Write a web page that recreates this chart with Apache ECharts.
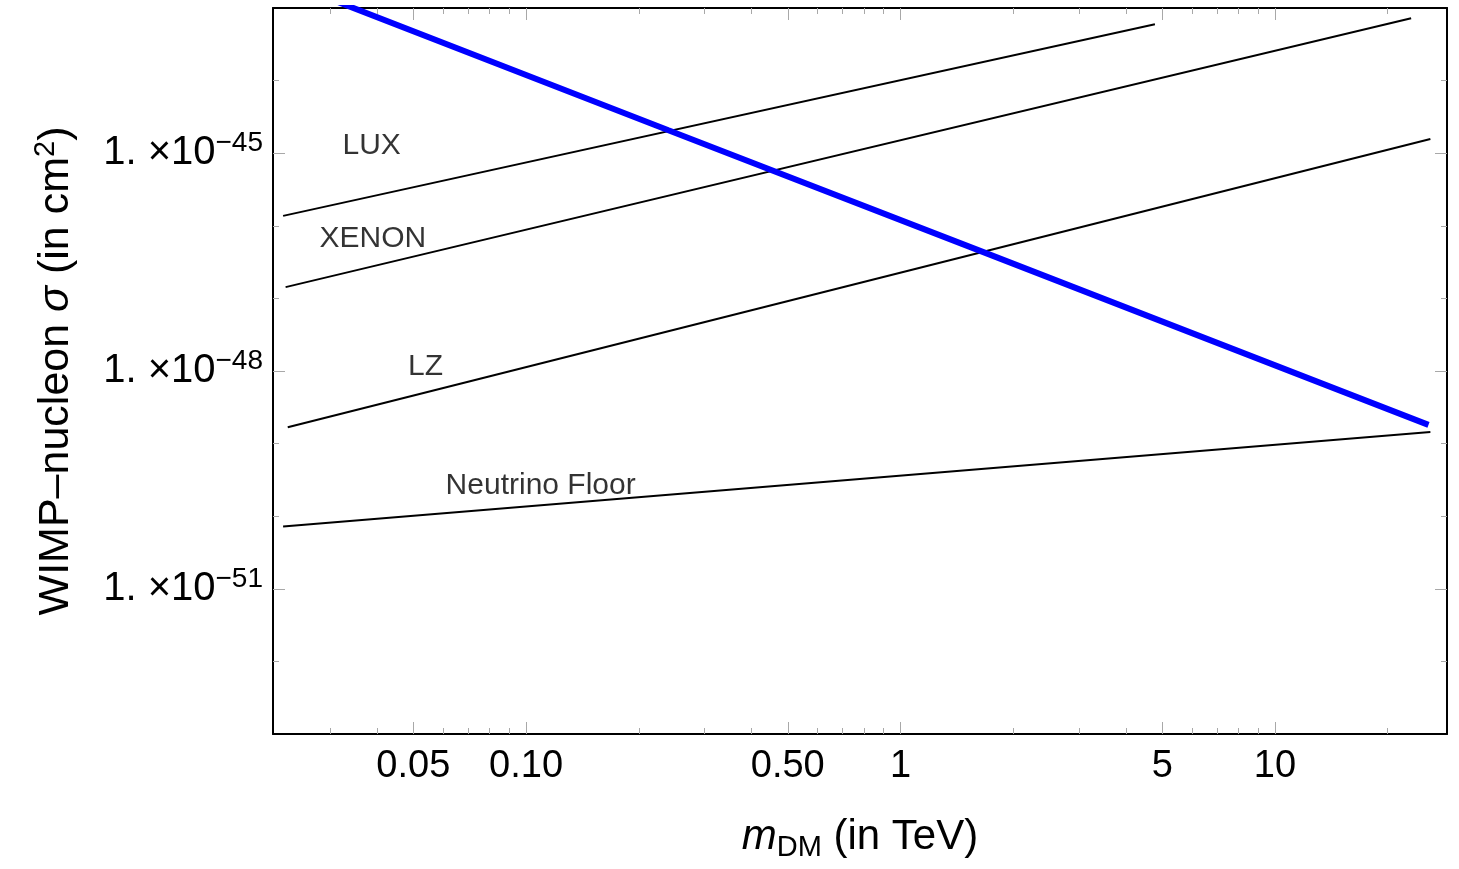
<!DOCTYPE html>
<html>
<head>
<meta charset="utf-8">
<title>WIMP-nucleon cross section</title>
<script src="https://cdn.jsdelivr.net/npm/echarts@6/dist/echarts.min.js"></script>
<style>
    html, body { margin: 0; padding: 0; background: #fff; }
    #main { width: 1459px; height: 869px; }
</style>
</head>
<body>
<div id="main"></div>
<script>
// axis ranges (TeV, cm^2)
let xMin = 0.0211, xMax = 28.8;
let yMin = 1e-53, yMax = 1e-43;

// tick values (y ticks given as powers of ten)
let xMajor = [0.05, 0.1, 0.5, 1, 5, 10];
let xMajorLabels = ['0.05', '0.10', '0.50', '1', '5', '10'];
let xMinor = [0.03, 0.04, 0.06, 0.07, 0.08, 0.09, 0.2, 0.3, 0.4, 0.6, 0.7, 0.8, 0.9, 2, 3, 4, 6, 7, 8, 9, 20];
let yExpMin = -53, yExpMax = -43;
let yMajorExp = [-45, -48, -51];
let yMinorExp = [-44, -46, -47, -49, -50, -52];

// curves (mass in TeV, sigma in cm^2)
let blueMass = [0.03, 0.24, 1.6, 25.7];
let blueSigma = [1.33e-43, 2.07e-45, 4.7e-47, 1.81e-49];
let luxMass = [0.02245, 4.78];
let luxSigma = [1.37e-46, 5.98e-44];
let xenonMass = [0.0228, 23.1];
let xenonSigma = [1.43e-47, 7.24e-44];
let lzMass = [0.0231, 26.0];
let lzSigma = [1.68e-49, 1.57e-45];
let floorMass = [0.02245, 26.0];
let floorSigma = [7.2e-51, 1.44e-49];

// curve labels
let labelNames = ['LUX', 'XENON', 'LZ', 'Neutrino Floor'];
let labelMass = [0.0387, 0.039, 0.0539, 0.1094];
let labelSigma = [1.26e-45, 6.6e-47, 1.15e-48, 2.61e-50];

const FONT = '"Liberation Sans", Arial, Helvetica, sans-serif';
const TICK_COLOR = '#a8a8a8';

function pairs(xs, ys) {
    return xs.map(function (x, i) { return [x, ys[i]]; });
}

function findIndex(list, v) {
    for (let i = 0; i < list.length; i++) {
        if (Math.abs(v / list[i] - 1) < 1e-6) return i;
    }
    return -1;
}

/**
 * log x axis: either the major ticks (with line/labels) or the minor ticks only
 */
function xAxisOf(position, values, length, withLine, withLabel) {
    return {
        type: 'log',
        position: position,
        min: xMin,
        max: xMax,
        axisLine: {show: withLine, onZero: false, lineStyle: {color: '#000', width: 2}},
        axisTick: {show: true, inside: true, length: length, customValues: values, lineStyle: {color: TICK_COLOR, width: 1}},
        axisLabel: {
            show: withLabel,
            customValues: values,
            margin: 14,
            fontFamily: FONT,
            fontSize: 38,
            color: '#000',
            formatter: function (v) {
                let i = findIndex(xMajor, v);
                return i >= 0 ? xMajorLabels[i] : '';
            }
        },
        splitLine: {show: false},
        minorTick: {show: false}
    };
}

/**
 * tick axis for y: echarts log ticks round 1e-45 to 0, so the ticks sit on the
 * exponent (same positions as the log axis that the series use)
 */
function yTickAxisOf(position, values, length, withLine, withLabel) {
    return {
        type: 'value',
        position: position,
        min: yExpMin,
        max: yExpMax,
        interval: 1,
        axisLine: {show: withLine, onZero: false, lineStyle: {color: '#000', width: 2}},
        axisTick: {show: true, inside: true, length: length, customValues: values, lineStyle: {color: TICK_COLOR, width: 1}},
        axisLabel: {
            show: withLabel,
            customValues: values,
            margin: 10,
            color: '#000',
            formatter: function (v) {
                return '{b|1. \u00d710}{s|\u2212' + Math.abs(v) + '}';
            },
            rich: {
                b: {fontFamily: FONT, fontSize: 40, lineHeight: 48, verticalAlign: 'middle', color: '#000'},
                s: {fontFamily: FONT, fontSize: 28, lineHeight: 28, verticalAlign: 'top', color: '#000'}
            }
        },
        splitLine: {show: false},
        minorTick: {show: false}
    };
}

let chart = echarts.init(document.getElementById('main'));

let xBottom = xAxisOf('bottom', xMajor, 12, true, true);
xBottom.name = '{i|m}{sub|DM}{a| (in TeV)}';
xBottom.nameLocation = 'middle';
xBottom.nameGap = 78;
xBottom.nameTextStyle = {
    rich: {
        i: {fontFamily: FONT, fontStyle: 'italic', fontSize: 42, lineHeight: 50, verticalAlign: 'middle', color: '#000'},
        sub: {fontFamily: FONT, fontSize: 29, lineHeight: 28, verticalAlign: 'bottom', color: '#000'},
        a: {fontFamily: FONT, fontSize: 42, lineHeight: 50, verticalAlign: 'middle', color: '#000'}
    }
};

let yLeft = yTickAxisOf('left', yMajorExp, 12, true, true);
yLeft.name = '{a|WIMP\u2013nucleon }{i|\u03c3}{a| (in cm}{s|2}{a|)}';
yLeft.nameLocation = 'middle';
yLeft.nameRotate = 90;
yLeft.nameGap = 192;
yLeft.nameTextStyle = {
    rich: {
        a: {fontFamily: FONT, fontSize: 43, lineHeight: 50, verticalAlign: 'middle', color: '#000'},
        i: {fontFamily: FONT, fontStyle: 'italic', fontSize: 43, lineHeight: 50, verticalAlign: 'middle', color: '#000'},
        s: {fontFamily: FONT, fontSize: 29, lineHeight: 29, verticalAlign: 'top', color: '#000'}
    }
};

let option = {
    animation: false,
    backgroundColor: '#fff',
    grid: {left: 273, right: 12, top: 8, bottom: 135, containLabel: false, outerBoundsMode: 'none'},
    xAxis: [
        xBottom,
        xAxisOf('bottom', xMinor, 6, false, false),
        xAxisOf('top', xMajor, 12, true, false),
        xAxisOf('top', xMinor, 6, false, false)
    ],
    yAxis: [
        // the data axis
        {type: 'log', show: false, min: yMin, max: yMax},
        yLeft,
        yTickAxisOf('left', yMinorExp, 6, false, false),
        yTickAxisOf('right', yMajorExp, 12, true, false),
        yTickAxisOf('right', yMinorExp, 6, false, false)
    ],
    series: [
        {
            name: 'LUX', type: 'line', showSymbol: false, clip: true, yAxisIndex: 0,
            lineStyle: {color: '#000', width: 2}, data: pairs(luxMass, luxSigma)
        },
        {
            name: 'XENON', type: 'line', showSymbol: false, clip: true, yAxisIndex: 0,
            lineStyle: {color: '#000', width: 2}, data: pairs(xenonMass, xenonSigma)
        },
        {
            name: 'LZ', type: 'line', showSymbol: false, clip: true, yAxisIndex: 0,
            lineStyle: {color: '#000', width: 2}, data: pairs(lzMass, lzSigma)
        },
        {
            name: 'Neutrino Floor', type: 'line', showSymbol: false, clip: true, yAxisIndex: 0,
            lineStyle: {color: '#000', width: 2}, data: pairs(floorMass, floorSigma)
        },
        {
            name: 'WIMP', type: 'line', showSymbol: false, clip: true, yAxisIndex: 0,
            lineStyle: {color: '#0000ff', width: 6}, data: pairs(blueMass, blueSigma)
        },
        {
            name: 'labels', type: 'scatter', symbolSize: 1, yAxisIndex: 0,
            itemStyle: {color: 'rgba(255,255,255,0)'},
            label: {
                show: true, position: 'inside', formatter: '{b}',
                fontFamily: FONT, fontSize: 30, color: '#000',
                textBorderWidth: 0
            },
            data: labelNames.map(function (n, i) {
                return {name: n, value: [labelMass[i], labelSigma[i]]};
            })
        }
    ]
};

chart.setOption(option);
</script>
</body>
</html>
